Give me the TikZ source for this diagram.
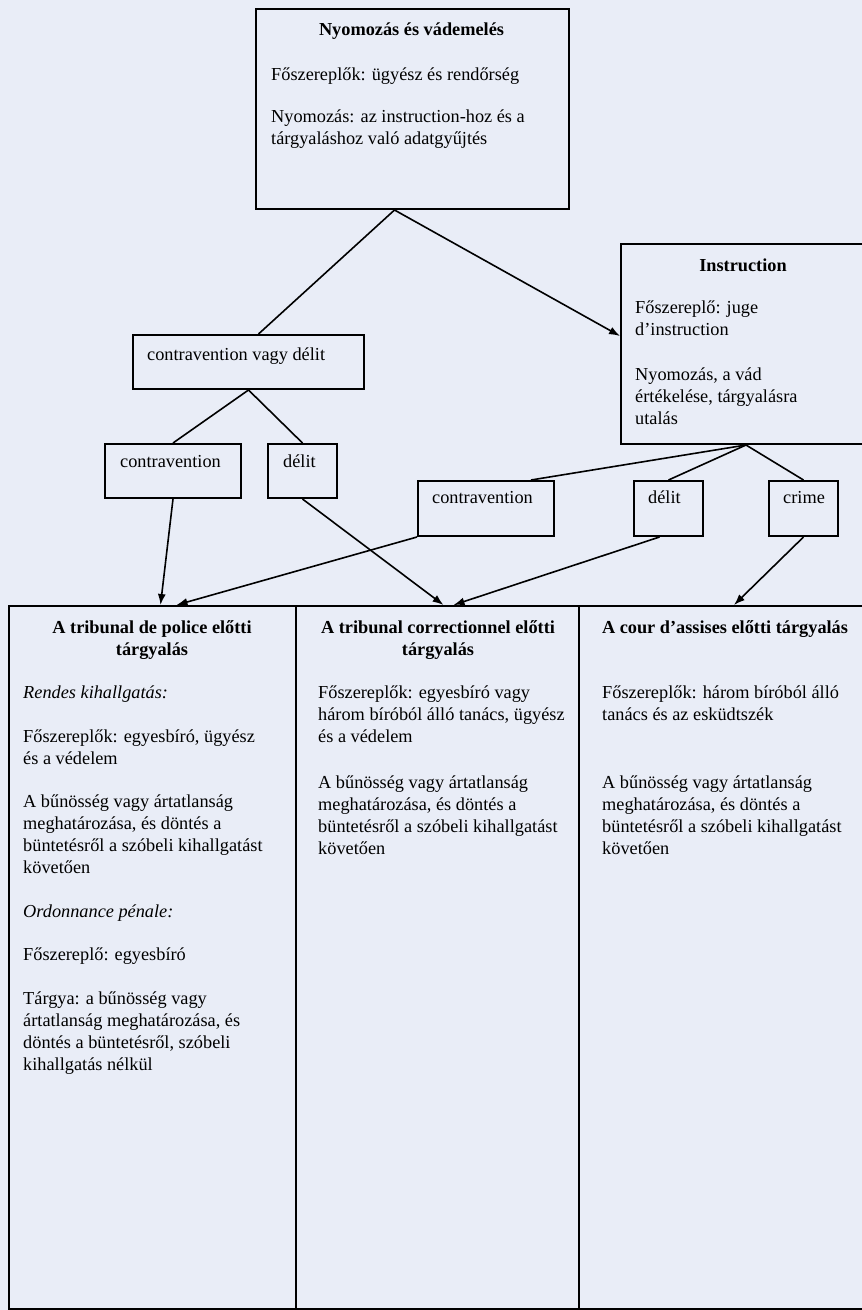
\documentclass[tikz,border=0pt]{standalone}
\usepackage{fontspec}
\setmainfont{Liberation Serif}
\usepackage{xcolor}
\usepackage{tikz}
\usetikzlibrary{positioning, calc, arrows.meta}

\definecolor{pagebg}{RGB}{233,237,247}

\begin{document}
\begin{tikzpicture}[
    x=1pt, y=-1pt,
    box/.style={rectangle, draw=black, line width=2pt, anchor=north west, inner sep=0pt},
    ttl/.style={anchor=base, font=\fontsize{18.3}{22}\selectfont\bfseries, align=center, inner sep=0pt},
    body/.style={anchor=base west, font=\fontsize{18.3}{22}\selectfont, align=left, inner sep=0pt},
    lbl/.style={anchor=base west, font=\fontsize{18.3}{22}\selectfont, inner sep=0pt},
    link/.style={line width=1.6pt},
    arr/.style={-{Latex[length=11pt, width=8pt]}, line width=1.6pt},
]

% Page
\useasboundingbox (0,0) rectangle (862,1310);
\fill[pagebg] (0,0) rectangle (862,1310);

% Nyomozas (multi-line texts sit on their last line)
\node[box, minimum width=313pt, minimum height=200pt] (top) at (255,8) {};
\node[ttl] (toptitle) at (411.5,35) {Nyomozás és vádemelés};
\node[body] (topbody) at (271,144) {Főszereplők: ügyész és rendőrség\\[20pt]
  Nyomozás: az instruction-hoz és a\\ tárgyaláshoz való adatgyűjtés};

% Instruction
\node[box, minimum width=250pt, minimum height=200pt] (instr) at (620,243) {};
\node[ttl] (instrtitle) at (743,271) {Instruction};
\node[body] (instrbody) at (635,424) {Főszereplő: juge\\ d’instruction\\[23pt]
  Nyomozás, a vád\\ értékelése, tárgyalásra\\ utalás};

% Kategoriak
\node[box, minimum width=231pt, minimum height=54pt] (cvd) at (132,334) {};
\node[lbl] (cvdlbl) at (147,360) {contravention vagy délit};

\node[box, minimum width=136pt, minimum height=54pt] (cv1) at (104,443) {};
\node[lbl] (cv1lbl) at (120,467) {contravention};
\node[box, minimum width=69pt, minimum height=54pt] (d1) at (267,443) {};
\node[lbl] (d1lbl) at (283,467) {délit};

\node[box, minimum width=136pt, minimum height=55pt] (cv2) at (417,480) {};
\node[lbl] (cv2lbl) at (432,503) {contravention};
\node[box, minimum width=69pt, minimum height=55pt] (d2) at (633,480) {};
\node[lbl] (d2lbl) at (648,503) {délit};
\node[box, minimum width=69pt, minimum height=55pt] (crime) at (768,480) {};
\node[lbl] (crimelbl) at (783,503) {crime};

% Targyalasok
\node[box, minimum width=287pt, minimum height=703pt] (police) at (8,605) {};
\node[ttl] (policetitle) at (152,655) {A tribunal de police előtti\\ tárgyalás};
\node[body] (policebody) at (23,1070) {{\itshape Rendes kihallgatás:}\\[21.5pt]
  Főszereplők: egyesbíró, ügyész\\ és a védelem\\[21.5pt]
  A bűnösség vagy ártatlanság\\ meghatározása, és döntés a\\ büntetésről a szóbeli kihallgatást\\ követően\\[21.5pt]
  {\itshape Ordonnance pénale:}\\[21.5pt]
  Főszereplő: egyesbíró\\[21.5pt]
  Tárgya: a bűnösség vagy\\ ártatlanság meghatározása, és\\ döntés a büntetésről, szóbeli\\ kihallgatás nélkül};

\node[box, minimum width=283pt, minimum height=703pt] (correc) at (295,605) {};
\node[ttl] (corretitle) at (438,655) {A tribunal correctionnel előtti\\ tárgyalás};
\node[body] (correcbody) at (318,854) {Főszereplők: egyesbíró vagy\\ három bíróból álló tanács, ügyész\\ és a védelem\\[24pt]
  A bűnösség vagy ártatlanság\\ meghatározása, és döntés a\\ büntetésről a szóbeli kihallgatást\\ követően};

\node[box, minimum width=290pt, minimum height=703pt] (cour) at (578,605) {};
\node[ttl] (courtitle) at (725,633) {A cour d’assises előtti tárgyalás};
\node[body] (courbody) at (602,854) {Főszereplők: három bíróból álló\\ tanács és az esküdtszék\\[46pt]
  A bűnösség vagy ártatlanság\\ meghatározása, és döntés a\\ büntetésről a szóbeli kihallgatást\\ követően};

% Connectors
\coordinate (topfork) at ($(top.south)+(-18,0)$);
\draw[link] (topfork) -- ($(cvd.north)+(10,0)$);
\draw[arr] (topfork) -- ($(instr.west)+(0,-8)$);

\draw[link] (cvd.south) -- (cv1.north);
\draw[link] (cvd.south) -- (d1.north);

\draw[link] (instr.south) -- ($(cv2.north)+(45,0)$);
\draw[link] (instr.south) -- (d2.north);
\draw[link] (instr.south) -- (crime.north);

\draw[arr] (cv1.south) -- ($(police.north)+(8,0)$);
\draw[arr] (cv2.south west) -- ($(police.north)+(24,0)$);
\draw[arr] (d1.south) -- ($(correc.north)+(6,0)$);
\draw[arr] ($(d2.south)+(-9,0)$) -- ($(correc.north)+(16,0)$);
\draw[arr] (crime.south) -- ($(cour.north)+(10,0)$);

\end{tikzpicture}
\end{document}
